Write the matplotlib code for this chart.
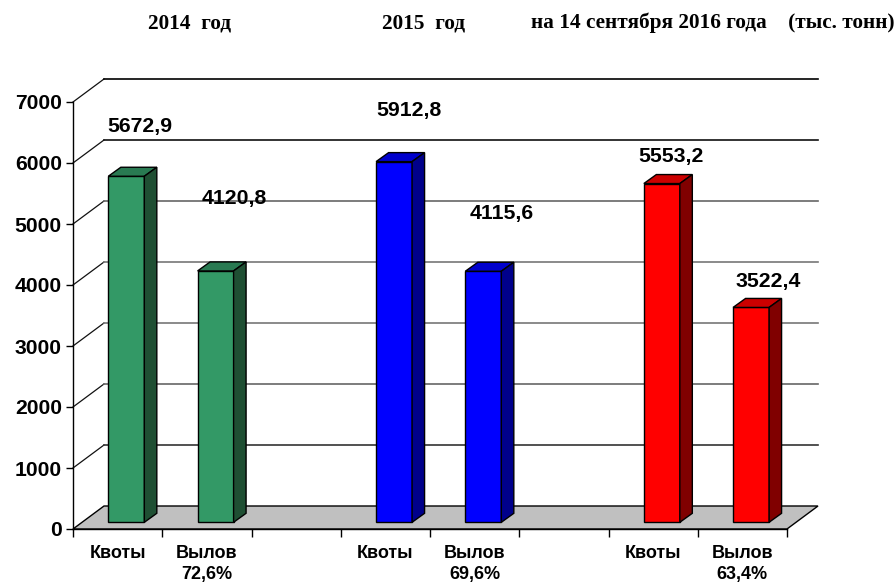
import matplotlib
matplotlib.use('Agg')
import matplotlib.pyplot as plt
from matplotlib.patches import Polygon

# Данные
categories = ['Квоты', 'Вылов\n72,6%', '', 'Квоты', 'Вылов\n69,6%', '', 'Квоты', 'Вылов\n63,4%']
slots = [0, 1, 3, 4, 6, 7]
values = [5672.9, 4120.8, 5912.8, 4115.6, 5553.2, 3522.4]
value_labels = ['5672,9', '4120,8', '5912,8', '4115,6', '5553,2', '3522,4']
y_ticks = [0, 1000, 2000, 3000, 4000, 5000, 6000, 7000]

# Цвета: передняя грань, верх, бок
front = ['#339966', '#339966', '#0000FF', '#0000FF', '#FF0000', '#FF0000']
top = ['#297A52', '#297A52', '#0000CC', '#0000CC', '#CC0000', '#CC0000']
side = ['#1F4F33', '#1F4F33', '#00008B', '#00008B', '#800000', '#800000']
grid_colors = ['#333333', '#666666', '#777777', '#777777', '#666666', '#111111', '#000000']

# Сдвиг подписей относительно верха столбца (пиксели)
label_offsets = [(13.5, 50), (18.5, 72), (15, 51), (18, 58), (9, 27), (17.5, 26)]

W, H = 896, 585
fig = plt.figure(figsize=(W / 100, H / 100), dpi=100)
ax = fig.add_axes([73 / W, 1 - 529 / H, (787 - 73) / W, (529 - 102) / H])
ax.set_xlim(0, 8)
ax.set_ylim(0, 7000)

# Глубина "3D" в единицах осей
px_x = 8 / 714
px_y = 7000 / 427
wall_dx, wall_dy = 31 * px_x, 23 * px_y
bar_dx, bar_dy = 12.5 * px_x, 9 * px_y
bar_w = 36 * px_x
shift_x, shift_y = 8.7 * px_x, 6.7 * px_y

# Пол
ax.add_patch(Polygon([(0, 0), (8, 0), (8 + wall_dx, wall_dy), (wall_dx, wall_dy)],
                     closed=True, facecolor='#C0C0C0', edgecolor='black', lw=1,
                     clip_on=False, zorder=1))

# Сетка на задней стенке
for t, c in zip(y_ticks[1:], grid_colors):
    ax.plot([0, wall_dx], [t, t + wall_dy], color='#111111', lw=0.9, clip_on=False, zorder=1)
    ax.plot([wall_dx, 8 + wall_dx], [t + wall_dy, t + wall_dy],
            color=c, lw=1.2, clip_on=False, zorder=1)

# Столбцы
for i, slot in enumerate(slots):
    v = values[i]
    x0 = slot + 0.5 + shift_x - bar_w / 2
    x1 = x0 + bar_w
    y0 = shift_y
    y1 = shift_y + v
    ax.bar(x0, v, width=bar_w, bottom=y0, align='edge', color=front[i],
           edgecolor='black', lw=1, zorder=3, clip_on=False)
    ax.add_patch(Polygon([(x0, y1), (x1, y1), (x1 + bar_dx, y1 + bar_dy), (x0 + bar_dx, y1 + bar_dy)],
                         closed=True, facecolor=top[i], edgecolor='black', lw=1,
                         zorder=3, clip_on=False))
    ax.add_patch(Polygon([(x1, y0), (x1 + bar_dx, y0 + bar_dy), (x1 + bar_dx, y1 + bar_dy), (x1, y1)],
                         closed=True, facecolor=side[i], edgecolor='black', lw=1,
                         zorder=3, clip_on=False))
    ax.annotate(value_labels[i], xy=((x0 + x1) / 2, y1), xytext=label_offsets[i],
                textcoords='offset pixels', ha='center', va='center',
                fontsize=15.3, fontweight='bold', family='Liberation Sans',
                color='black', zorder=5, annotation_clip=False)

# Оси
for s in ['top', 'right']:
    ax.spines[s].set_visible(False)
ax.patch.set_visible(False)
ax.spines['left'].set_linewidth(1)
ax.spines['bottom'].set_linewidth(1)
ax.spines['left'].set_zorder(2)
ax.spines['bottom'].set_zorder(2)

ax.set_yticks(y_ticks)
ax.set_yticklabels([str(t) for t in y_ticks], fontsize=15.2, fontweight='bold', family='Liberation Sans')
ax.tick_params(axis='y', length=5, width=1, pad=3)

ax.set_xticks(range(9))
ax.set_xticklabels([])
ax.tick_params(axis='x', length=6, width=1)
for k, name in enumerate(categories):
    if name:
        ax.annotate(name, xy=(k + 0.5, 0), xytext=(0, -16), textcoords='offset pixels',
                    ha='center', va='top', fontsize=13, fontweight='bold',
                    family='Liberation Sans', linespacing=1.3, annotation_clip=False)

# Заголовки
titles = [(148, '2014  год'), (382, '2015  год'), (531, 'на 14 сентября 2016 года    (тыс. тонн)')]
for tx, txt in titles:
    fig.text(tx / W, 1 - 23 / H, txt, ha='left', va='center', fontsize=15.3,
             fontweight='bold', family='Liberation Serif')

fig.savefig('out.png', dpi=100, facecolor='white')
